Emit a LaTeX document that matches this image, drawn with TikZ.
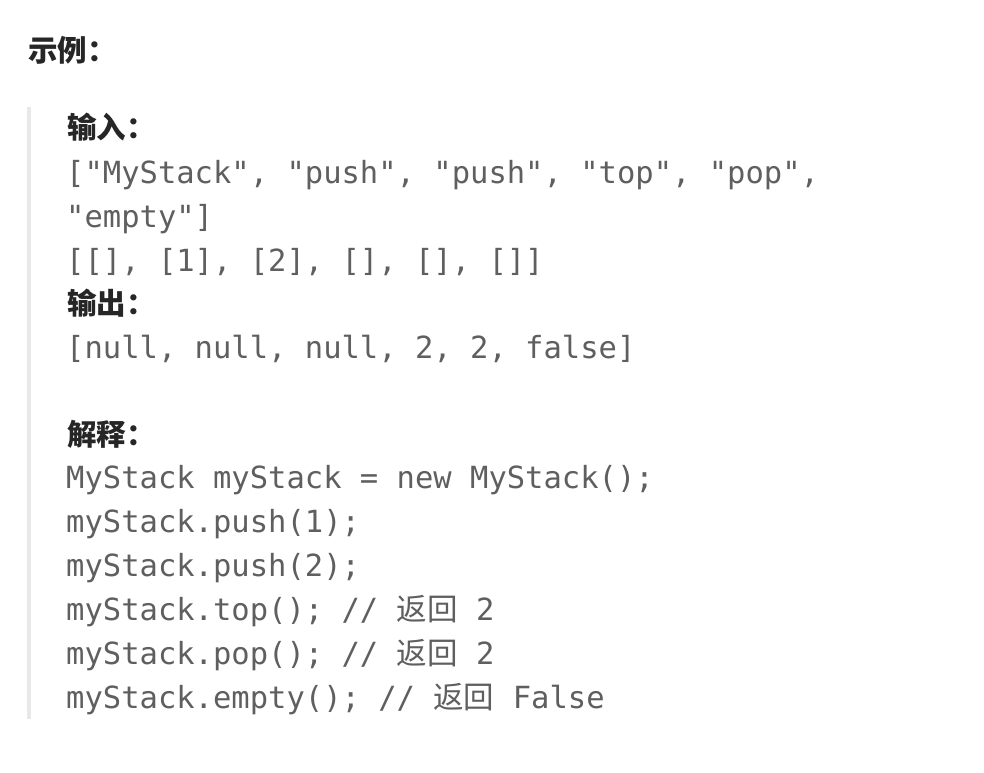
\documentclass[tikz,border=0pt]{standalone}
\usepackage{fontspec}
\setmonofont{DejaVu Sans Mono}
\newfontfamily\cjk{Noto Sans CJK SC}
\frenchspacing
\definecolor{headc}{HTML}{262626}
\definecolor{codec}{HTML}{5F5F5F}
\definecolor{barc}{HTML}{E8E8E8}
\tikzset{
  headtxt/.style={anchor=base west, inner sep=0pt, text=headc, font=\fontsize{29.5}{34}\selectfont\cjk\bfseries},
  codetxt/.style={anchor=base west, inner sep=0pt, text=codec, font=\fontsize{30.5}{36}\selectfont\ttfamily},
}
\begin{document}
\begin{tikzpicture}[x=1pt,y=-1pt]
\fill[white] (0,0) rectangle (984,772);
\useasboundingbox (0,0) rectangle (984,772);
\fill[barc] (27,107) rectangle (31,719);
\node[headtxt] (title) at (28,61) {示例：};
\node[headtxt] (hin) at (67,138.5) {输入：};
\node[codetxt] (c1) at (66,183.5) {["MyStack", "push", "push", "top", "pop",};
\node[codetxt] (c2) at (66,227.5) {"empty"]};
\node[codetxt] (c3) at (66,271.5) {[[], [1], [2], [], [], []]};
\node[headtxt] (hout) at (67,314) {输出：};
\node[codetxt] (c4) at (66,358) {[null, null, null, 2, 2, false]};
\node[headtxt] (hexp) at (67,445) {解释：};
\node[codetxt] (d1) at (66,488.8) {MyStack myStack = new MyStack();};
\node[codetxt] (d2) at (66,532.65) {myStack.push(1);};
\node[codetxt] (d3) at (66,576.5) {myStack.push(2);};
\node[codetxt] (d4) at (66,620.35) {myStack.top(); // {\cjk 返回} 2};
\node[codetxt] (d5) at (66,664.2) {myStack.pop(); // {\cjk 返回} 2};
\node[codetxt] (d6) at (66,708.05) {myStack.empty(); // {\cjk 返回} False};
\end{tikzpicture}
\end{document}
